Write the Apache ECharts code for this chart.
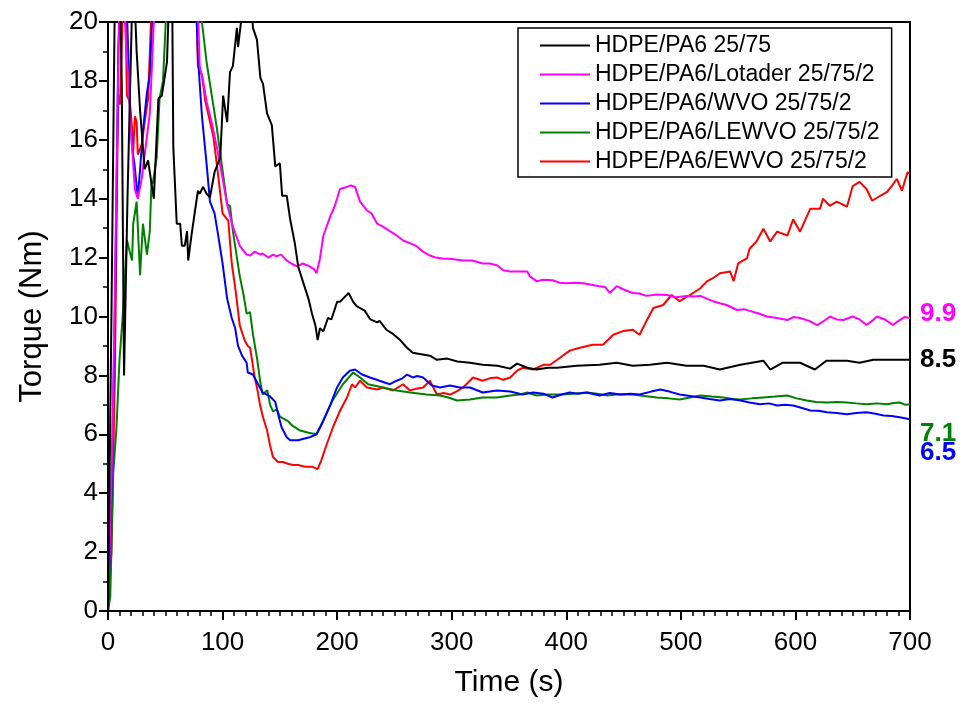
<!DOCTYPE html>
<html>
<head>
<meta charset="utf-8">
<script src="https://cdn.jsdelivr.net/npm/echarts@6/dist/echarts.min.js"></script>
<style>html,body{margin:0;padding:0;background:#fff;overflow:hidden}#c{width:970px;height:703px}</style>
</head>
<body>
<div id="c"></div>
<script>
// [time (s), torque (Nm)]
const black = [[0,0],[3,10],[6,21],[10,22],[12,18],[14,8],[17,14],[21,20.5],[23,21],[25,19],[28,17],[32,15],[35,15.3],[38,14.5],[40,14],[44,17.4],[47,17.5],[51.5,18.65],[53,20.5],[56,21],[57,15.75],[60,13.15],[63,13.15],[64.5,12.4],[67,12.4],[69,12.9],[70,11.9],[73,12.8],[76,13.6],[78.5,14.27],[80,14.17],[83,14.4],[86,14.17],[89,14.05],[93,14.9],[98,15.4],[100.5,17.5],[104,16.6],[106.5,18.3],[109,18.5],[112.5,19.8],[113.5,19.15],[117,20.3],[121,20.5],[125.7,20.3],[126.5,19.8],[130,19.4],[133,18.1],[135.3,17.9],[138.8,16.9],[143,16.5],[146,15.1],[150,15.2],[152,14.1],[156,14.1],[159,13.3],[163,12.5],[166,11.7],[170,11.2],[175,10.6],[178,10.1],[181,9.7],[183,9.2],[185,9.6],[188,9.5],[192,9.95],[195,9.9],[200,10.5],[202.5,10.5],[205,10.6],[210,10.8],[214,10.5],[217,10.35],[224,10.2],[229,9.9],[235,9.8],[237,9.85],[243,9.55],[249,9.4],[255,9.2],[261,8.94],[266,8.77],[272,8.73],[281,8.67],[287,8.53],[296,8.57],[305,8.47],[316,8.43],[327,8.36],[340,8.33],[351,8.23],[357,8.4],[366,8.26],[374,8.2],[384,8.26],[392,8.26],[409,8.33],[429,8.36],[444,8.43],[458,8.33],[473,8.36],[488,8.43],[505,8.33],[520,8.33],[534,8.2],[552,8.36],[572,8.5],[578,8.2],[589,8.43],[604,8.43],[617,8.2],[627,8.5],[645,8.5],[656,8.43],[668,8.53],[685,8.53],[700,8.53]];
const lotader = [[0,0],[4,6],[8,16],[10,21],[14,21],[16,19],[17.5,18.2],[21,15.75],[23.5,14.3],[26,14.0],[29.5,14.7],[32,15.5],[36.5,16.9],[39,19.1],[41,21],[44,22],[75,22],[78,21],[80,18.5],[83,18],[86,17.3],[91,16.5],[95,15.75],[99.5,14.8],[104,13.8],[109,13.05],[115,12.4],[121,12.1],[124,12.07],[128,12.2],[133,12.1],[135,12.14],[140,12.0],[144,12.1],[147,12.04],[151,12.1],[156,11.9],[160,11.8],[165,11.7],[170,11.8],[176,11.7],[180,11.6],[182,11.47],[185,11.97],[188,12.75],[194,13.4],[198,13.76],[202.5,14.33],[208.5,14.4],[212,14.45],[215.6,14.4],[220,13.9],[226,13.6],[230,13.5],[235,13.15],[240,13.05],[246,12.9],[252,12.75],[257.5,12.58],[263,12.5],[269.7,12.38],[275,12.2],[281,12.07],[286,12.0],[292,11.97],[300,11.95],[310,11.9],[318,11.9],[327,11.8],[333,11.8],[339.5,11.74],[345,11.57],[351,11.53],[357,11.53],[362,11.53],[366,11.53],[368,11.37],[374,11.2],[380,11.25],[388,11.23],[394,11.15],[400,11.13],[408,11.15],[415,11.13],[422,11.08],[429,11.03],[434,11.0],[438,10.8],[444,11.03],[451,10.9],[458,10.8],[464,10.78],[470,10.7],[479,10.75],[488,10.73],[496,10.65],[505,10.7],[511,10.68],[517,10.7],[523,10.6],[528,10.52],[534,10.45],[540,10.39],[549,10.22],[555,10.25],[560,10.19],[568,10.1],[575,10.0],[584,9.95],[593,9.88],[598,9.98],[604,9.95],[612,9.85],[619,9.71],[625,9.85],[630,10.0],[636,9.9],[642,9.88],[650,10.0],[656,9.9],[662,9.71],[667,9.85],[671,10.0],[678,9.9],[685,9.71],[690,9.85],[695,9.98],[700,9.95]];
const wvo = [[0,0],[3,4],[6,10],[9,19.1],[11,21],[16,21],[19,17.3],[21,15.75],[23,15.2],[26,14.05],[28,15],[30.5,16.3],[34,17.6],[36.5,18.2],[39,20.5],[42,22],[74,22],[76,21],[77.5,20],[78.5,18.8],[82,16.8],[86,15.2],[89,13.9],[93,13.5],[96,12.8],[100,11.8],[104,10.6],[108,9.95],[111,9.6],[113.5,9.0],[117,8.67],[121,8.43],[122,8.1],[126.5,8.03],[131,7.7],[135,7.42],[141,7.3],[146,7.1],[148.5,6.68],[151.5,6.24],[156,5.9],[159,5.8],[161.5,5.8],[166,5.8],[170,5.84],[176,5.9],[182,6.0],[186.5,6.34],[194,7.0],[200,7.6],[205,7.93],[211,8.16],[215.6,8.2],[221.7,8.03],[228.7,7.93],[237,7.82],[246,7.7],[252,7.82],[257,7.9],[261,8.03],[266,7.93],[270,7.98],[275,7.93],[282.6,7.66],[289.8,7.59],[298.5,7.66],[307,7.59],[316,7.59],[327,7.42],[339.5,7.49],[351,7.45],[362,7.35],[371,7.42],[380,7.38],[388,7.25],[396,7.35],[403,7.42],[410,7.38],[418,7.42],[429,7.32],[438,7.4],[447,7.35],[456,7.38],[464,7.35],[474,7.45],[482,7.52],[490,7.45],[499,7.35],[508,7.3],[517,7.25],[525,7.2],[534,7.15],[543,7.2],[552,7.15],[560,7.08],[569,7.02],[577,7.05],[584,6.98],[591,7.0],[598,6.98],[605,6.9],[613,6.81],[620,6.8],[627.5,6.75],[636,6.72],[645,6.68],[653,6.72],[662,6.75],[670,6.7],[677,6.64],[684,6.62],[691,6.58],[700,6.51]];
const lewvo = [[0,0],[2,0.5],[4.5,4.65],[7.5,6.3],[10,8.5],[13,10.1],[16.5,12.6],[19,12.2],[21,11.9],[22,13.15],[25,13.9],[28,11.4],[30.5,13.15],[34,12.1],[36.5,12.9],[38,14.6],[39,14.5],[42.5,15.4],[45,17.4],[48,18],[51,20.5],[54,22],[78,22],[80,21],[82,20],[86,18.65],[91,17.4],[95,16.4],[99.5,15.1],[104,13.8],[106.5,13.76],[109,12.9],[115,11.37],[118,10.8],[121,10.1],[124,10.15],[126.5,9.4],[130,8.6],[133,7.75],[135,7.35],[139,7.5],[141.5,7.0],[144,6.78],[147.5,6.85],[150,6.6],[157,6.45],[160.6,6.3],[167,6.14],[175,6.05],[182,6.0],[188,6.47],[196,7.15],[205,7.7],[214,8.1],[220,7.93],[227,7.7],[233,7.65],[240,7.59],[252,7.49],[263.6,7.42],[278,7.35],[289.8,7.32],[297,7.25],[304.6,7.15],[316,7.18],[327,7.25],[339.5,7.25],[351,7.32],[359.6,7.35],[366,7.42],[374,7.32],[384,7.35],[394.5,7.35],[406,7.38],[418,7.42],[427,7.38],[435.5,7.32],[446,7.36],[458,7.35],[468,7.3],[479,7.25],[489,7.22],[499,7.18],[508,7.25],[517,7.32],[527,7.28],[537,7.25],[545,7.2],[552,7.18],[562,7.22],[572,7.25],[582,7.28],[593,7.32],[601,7.22],[610,7.15],[618,7.1],[627.5,7.08],[636,7.1],[645,7.08],[653,7.05],[662,7.02],[671,7.05],[680,7.02],[686,7.06],[691,7.08],[696,7.0],[700,7.02]];
const ewvo = [[0,0],[3,2],[6,8],[8,15],[9,17.5],[10.5,17.2],[12,19.1],[13,21],[15,21],[16.5,17.5],[19,17.3],[21,16.4],[22,15.6],[23.5,16.8],[25,16.6],[26,15.5],[29.5,15.85],[32,16.6],[35,17.4],[38,20.5],[40,22],[74,22],[76,21],[77.5,20],[78.5,18.5],[82,18.2],[85,17.3],[87,16.96],[92,16.1],[96,14.84],[100,13.5],[105,13.25],[108,11.8],[111,11.0],[115,9.7],[119.5,9.17],[122,9.0],[124,8.94],[125.7,8.53],[128,7.93],[130,7.6],[132.7,7.0],[135.3,6.58],[138.8,6.14],[141.4,5.63],[144,5.23],[148.4,5.06],[152.7,5.06],[157,5.0],[161.5,4.96],[166,4.96],[172,4.9],[178,4.9],[183,4.82],[186,5.1],[191,5.67],[196.4,6.24],[202.5,6.8],[208.6,7.25],[213,7.7],[215.6,7.59],[220,7.82],[226,7.59],[235,7.52],[240,7.59],[249,7.49],[257.5,7.7],[263.6,7.49],[269,7.55],[275,7.59],[281,7.82],[287,7.35],[293,7.4],[298.5,7.35],[304,7.45],[310,7.59],[318.6,7.93],[327,7.82],[333,7.9],[339.5,7.93],[345,7.85],[351,7.93],[357,8.16],[362,8.26],[371,8.2],[380,8.36],[386,8.36],[394.5,8.6],[403,8.84],[412,8.94],[423,9.04],[432,9.04],[441,9.38],[450,9.51],[458,9.55],[464,9.38],[470,9.85],[476,10.29],[484.5,10.39],[492,10.73],[499,10.52],[508,10.73],[517,10.96],[523,11.2],[528,11.3],[534,11.47],[543,11.53],[546,11.2],[550,11.8],[557.6,11.97],[560,12.3],[566,12.55],[572,12.98],[578,12.55],[584,12.88],[593,12.75],[598,13.3],[604,12.88],[613,13.66],[621.5,13.66],[624,14.0],[630,13.76],[636,13.9],[645,13.73],[650,14.43],[656,14.57],[662,14.33],[667,13.93],[674,14.1],[680,14.23],[684,14.43],[688.5,14.67],[693,14.27],[696,14.67],[698,14.9],[700,14.84]];

const seriesNames = ['HDPE/PA6 25/75','HDPE/PA6/Lotader 25/75/2','HDPE/PA6/WVO 25/75/2','HDPE/PA6/LEWVO 25/75/2','HDPE/PA6/EWVO 25/75/2'];
const seriesData = [black, lotader, wvo, lewvo, ewvo];
const seriesColors = ['#000000','#ff00ff','#0000ff','#008000','#ff0000'];
const endLabels = ['8.5','9.9','6.5','7.1',''];
const endLabelOffsets = [[0,0],[0,-4],[0,34],[0,30],[0,0]];
const xTicks = [0,100,200,300,400,500,600,700];
const yTicks = [0,2,4,6,8,10,12,14,16,18,20];

const chart = echarts.init(document.getElementById('c'), null, {renderer:'canvas', width:970, height:703});
const tickFont = 'Liberation Sans Narrow, Liberation Sans, Arial, sans-serif';
const mainFont = 'Liberation Sans, Arial, sans-serif';

chart.setOption({
  animation: false,
  backgroundColor: '#fff',
  grid: {left:108, right:60, top:22, bottom:83, show:true, borderColor:'#000', borderWidth:2, backgroundColor:'transparent'},
  legend: {
    orient:'vertical', left:518, top:28,
    padding:[6,12,4,22], itemWidth:50, itemHeight:2, itemGap:6,
    icon:'rect',
    borderColor:'#000', borderWidth:1.5, backgroundColor:'#fff',
    textStyle:{fontSize:23, fontFamily:mainFont, color:'#000', lineHeight:23},
    data: seriesNames
  },
  xAxis: {
    type:'value', min:xTicks[0], max:xTicks[xTicks.length-1], interval:100,
    name:'Time (s)', nameLocation:'middle', nameGap:57,
    nameTextStyle:{fontSize:30, fontFamily:mainFont, color:'#000'},
    axisLine:{show:true, onZero:false, lineStyle:{color:'#000', width:2}},
    axisTick:{show:true, length:9, lineStyle:{color:'#000', width:2}},
    minorTick:{show:true, splitNumber:10, length:5, lineStyle:{color:'#000', width:1.5}},
    splitLine:{show:false},
    axisLabel:{fontSize:26, fontFamily:tickFont, color:'#000', margin:19}
  },
  yAxis: {
    type:'value', min:yTicks[0], max:yTicks[yTicks.length-1], interval:2,
    name:'Torque (Nm)', nameLocation:'middle', nameGap:60,
    nameTextStyle:{fontSize:31, fontFamily:mainFont, color:'#000'},
    axisLine:{show:true, onZero:false, lineStyle:{color:'#000', width:2}},
    axisTick:{show:true, length:9, lineStyle:{color:'#000', width:2}},
    minorTick:{show:true, splitNumber:2, length:5, lineStyle:{color:'#000', width:1.5}},
    splitLine:{show:false},
    axisLabel:{fontSize:26, fontFamily:tickFont, color:'#000', margin:10}
  },
  series: seriesNames.map((n,i)=>({
    name:n, type:'line', data:seriesData[i], symbol:'none', clip:true,
    lineStyle:{color:seriesColors[i], width:2}, itemStyle:{color:seriesColors[i]},
    z: 10 - i,
    endLabel: endLabels[i] ? {
      show:true, formatter:()=>endLabels[i], color:seriesColors[i],
      fontWeight:'bold', fontSize:26, fontFamily:mainFont, distance:10, offset:endLabelOffsets[i]
    } : {show:false}
  }))
});
</script>
</body>
</html>
